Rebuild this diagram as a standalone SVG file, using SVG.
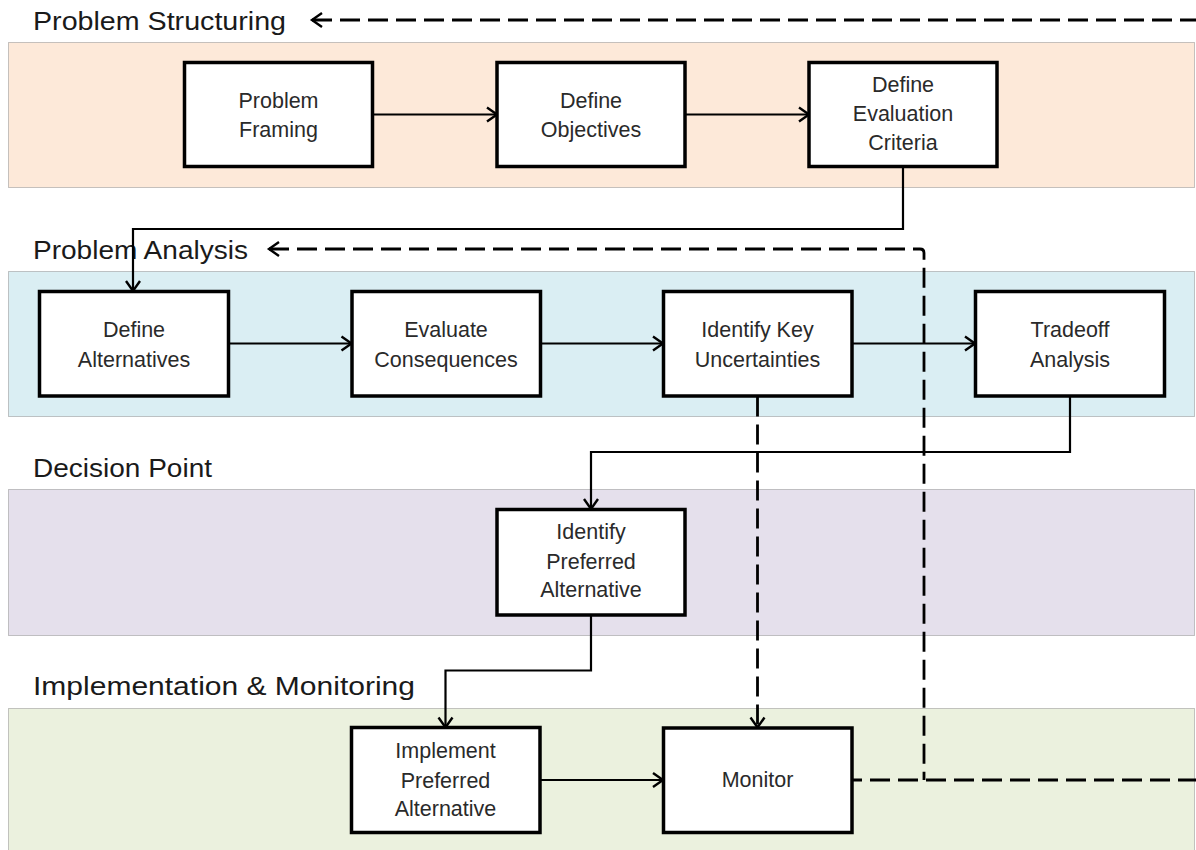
<svg xmlns="http://www.w3.org/2000/svg" width="1196" height="850" viewBox="0 0 1196 850">
  <style>
    .band { stroke: #8c8c8c; stroke-width: 1; stroke-dasharray: 1 1; }
    .hdr { font-family: "Liberation Sans", Arial, sans-serif; font-size: 26px; fill: #1a1a1a; }
    .box rect { fill: #ffffff; stroke: #000000; stroke-width: 3.5; }
    .box text { font-family: "Liberation Sans", Arial, sans-serif; font-size: 21.5px; fill: #2a2a2a; text-anchor: middle; }
    .conn path { fill: none; stroke: #000000; }
    .solid { stroke-width: 2.2; }
    .dash { stroke-width: 2.8; stroke-dasharray: 20 8; }
  </style>
  <defs>
    <marker id="arr" markerUnits="userSpaceOnUse" markerWidth="16" markerHeight="20" viewBox="-13 -10 16 20" refX="0" refY="0" orient="auto-start-reverse" overflow="visible">
      <path d="M-10,-7 L0,0 L-10,7" fill="none" stroke="#000" stroke-width="2.4" stroke-linejoin="miter"/>
    </marker>
  </defs>
  <rect width="1196" height="850" fill="#ffffff"/>

  <g id="lanes">
    <rect class="band" x="8.5" y="42.5" width="1186" height="145" fill="#FDE9D9"/>
    <rect class="band" x="8.5" y="271.5" width="1186" height="145" fill="#DAEEF3"/>
    <rect class="band" x="8.5" y="489.5" width="1186" height="146" fill="#E5E0EC"/>
    <rect class="band" x="8.5" y="708.5" width="1186" height="160" fill="#EBF1DE"/>
    <text class="hdr" x="33" y="30" textLength="253" lengthAdjust="spacingAndGlyphs">Problem Structuring</text>
    <text class="hdr" x="33" y="259" textLength="215" lengthAdjust="spacingAndGlyphs">Problem Analysis</text>
    <text class="hdr" x="33" y="477" textLength="179" lengthAdjust="spacingAndGlyphs">Decision Point</text>
    <text class="hdr" x="33" y="695" textLength="382" lengthAdjust="spacingAndGlyphs">Implementation &amp; Monitoring</text>
  </g>

  <g id="connectors" class="conn">
    <path class="solid" d="M373,114.5 H497" marker-end="url(#arr)"/>
    <path class="solid" d="M685,114.5 H809" marker-end="url(#arr)"/>
    <path class="solid" d="M903,166.5 V229 H133 V291" marker-end="url(#arr)"/>
    <path class="solid" d="M229,343.5 H351.5" marker-end="url(#arr)"/>
    <path class="solid" d="M540.5,343.5 H663" marker-end="url(#arr)"/>
    <path class="solid" d="M852,343.5 H975" marker-end="url(#arr)"/>
    <path class="solid" d="M1070,396 V452 H591 V509" marker-end="url(#arr)"/>
    <path class="solid" d="M591,615 V670.5 H445.5 V727.5" marker-end="url(#arr)"/>
    <path class="solid" d="M540,780 H663" marker-end="url(#arr)"/>
    <path class="dash" d="M757.5,396.5 V727.5" marker-end="url(#arr)"/>
    <path class="dash" d="M312,20 H1215 V780 H852" marker-start="url(#arr)"/>
    <path class="dash" d="M269,249 H920 Q924,249 924,253 V780" marker-start="url(#arr)"/>
  </g>

  <g id="n-problem-framing" class="box">
    <rect x="184.5" y="62.5" width="188" height="104"/>
    <text x="278.5" y="108">Problem</text>
    <text x="278.5" y="137">Framing</text>
  </g>
  <g id="n-define-objectives" class="box">
    <rect x="497" y="62.5" width="188" height="104"/>
    <text x="591" y="108">Define</text>
    <text x="591" y="137">Objectives</text>
  </g>
  <g id="n-define-evaluation-criteria" class="box">
    <rect x="809" y="62.5" width="188" height="104"/>
    <text x="903" y="92">Define</text>
    <text x="903" y="121">Evaluation</text>
    <text x="903" y="150">Criteria</text>
  </g>

  <g id="n-define-alternatives" class="box">
    <rect x="39.5" y="291.5" width="189" height="104.5"/>
    <text x="134" y="337">Define</text>
    <text x="134" y="366.5">Alternatives</text>
  </g>
  <g id="n-evaluate-consequences" class="box">
    <rect x="352" y="291.5" width="188.5" height="104.5"/>
    <text x="446" y="337">Evaluate</text>
    <text x="446" y="366.5">Consequences</text>
  </g>
  <g id="n-identify-key-uncertainties" class="box">
    <rect x="663.5" y="291.5" width="188.5" height="104.5"/>
    <text x="757.5" y="337">Identify Key</text>
    <text x="757.5" y="366.5">Uncertainties</text>
  </g>
  <g id="n-tradeoff-analysis" class="box">
    <rect x="975.5" y="291.5" width="189" height="104.5"/>
    <text x="1070" y="337">Tradeoff</text>
    <text x="1070" y="366.5">Analysis</text>
  </g>

  <g id="n-identify-preferred-alternative" class="box">
    <rect x="497" y="509.5" width="188" height="105.5"/>
    <text x="591" y="539">Identify</text>
    <text x="591" y="568.5">Preferred</text>
    <text x="591" y="597">Alternative</text>
  </g>

  <g id="n-implement-preferred-alternative" class="box">
    <rect x="351.5" y="727.5" width="188.5" height="105"/>
    <text x="445.5" y="758">Implement</text>
    <text x="445.5" y="787.5">Preferred</text>
    <text x="445.5" y="816">Alternative</text>
  </g>
  <g id="n-monitor" class="box">
    <rect x="663.5" y="728" width="188.5" height="104.5"/>
    <text x="757.5" y="787">Monitor</text>
  </g>
</svg>
